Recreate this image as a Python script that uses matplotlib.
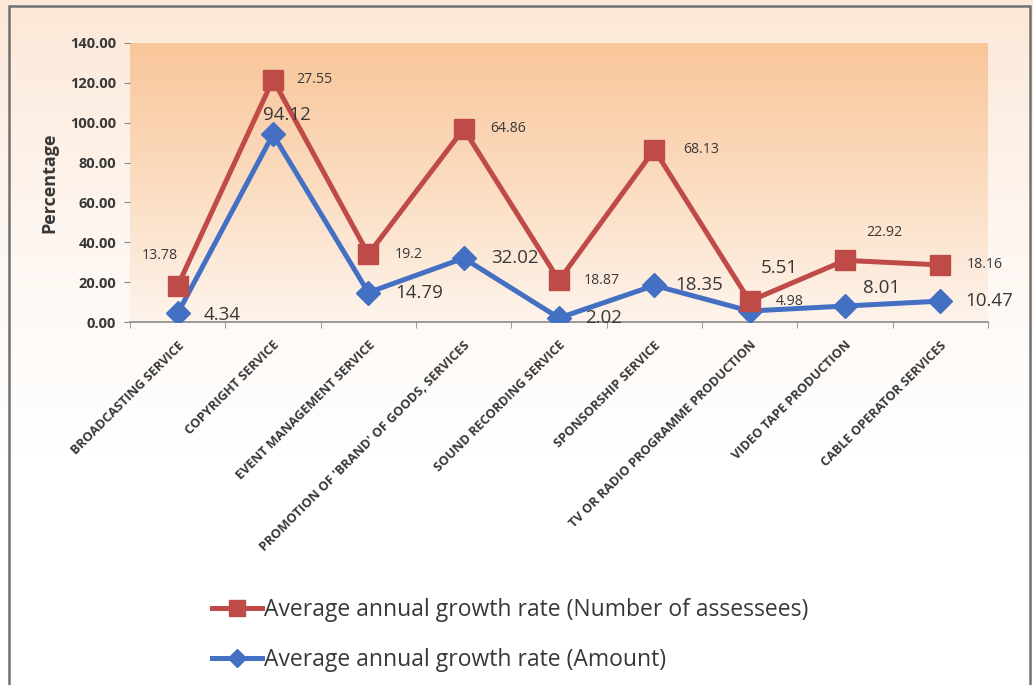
import numpy as np
import matplotlib.pyplot as plt
from matplotlib.patches import Rectangle
from matplotlib.colors import LinearSegmentedColormap

plt.rcParams['font.family'] = ['Open Sans', 'DejaVu Sans']

# --------------------------------------------------
# data
# --------------------------------------------------
categories = [
    'BROADCASTING SERVICE',
    'COPYRIGHT SERVICE',
    'EVENT MANAGEMENT SERVICE',
    "PROMOTION OF 'BRAND' OF GOODS, SERVICES",
    'SOUND RECORDING SERVICE',
    'SPONSORSHIP SERVICE',
    'TV OR RADIO PROGRAMME PRODUCTION',
    'VIDEO TAPE PRODUCTION',
    'CABLE OPERATOR SERVICES',
]
assessees = [13.78, 27.55, 19.2, 64.86, 18.87, 68.13, 4.98, 22.92, 18.16]
amount = [4.34, 94.12, 14.79, 32.02, 2.02, 18.35, 5.51, 8.01, 10.47]

yticks = [0, 20, 40, 60, 80, 100, 120, 140]

# label offsets (points) for the data labels
red_off = [(-13, 22), (30, 0), (29, 0), (32, 0), (31, 0), (34, 0), (29, 0), (28, 20), (32, 0)]
blue_off = [(32, -1), (10, 14), (37, 0), (37, 0), (32, 0), (32, 0), (21, 31), (26, 13), (35, 0)]

RED = '#BE4B48'
BLUE = '#4470C4'
TXT = '#383838'

W, H = 1033, 685
fig = plt.figure(figsize=(W / 100, H / 100), dpi=100)

# --------------------------------------------------
# outer background + border
# --------------------------------------------------
bg = fig.add_axes([0, 0, 1, 1], zorder=-10)
bg_cmap = LinearSegmentedColormap.from_list('bg', ['#FCE8D8', '#FEF6F0', '#FFFFFF', '#FFFFFF'])
bg.imshow(np.linspace(0, 1, 256).reshape(-1, 1), aspect='auto', cmap=bg_cmap,
          extent=[0, 1, 0, 1], origin='upper')
bg.add_patch(Rectangle((9 / W, -0.01), 1021 / W, 1 - 6 / H + 0.01,
                       fill=False, edgecolor='#707070', linewidth=1.8))
bg.set_xlim(0, 1)
bg.set_ylim(0, 1)
bg.axis('off')

# --------------------------------------------------
# plot area
# --------------------------------------------------
ax = fig.add_axes([130 / W, 1 - 322 / H, 858 / W, 279 / H])
ax.patch.set_alpha(0)
pa_cmap = LinearSegmentedColormap.from_list('pa', ['#F9C69A', '#FBDCC0', '#FEF4EC'])
ax.imshow(np.linspace(0, 1, 256).reshape(-1, 1), aspect='auto', cmap=pa_cmap,
          extent=[0, 1, 0, 1], origin='upper', transform=ax.transAxes, zorder=0)

x = np.arange(len(categories))
amount = np.array(amount)
stacked = amount + np.array(assessees)

ax.plot(x, amount, color=BLUE, lw=3.6, marker='D', ms=12, zorder=3,
        label='Average annual growth rate (Amount)')
ax.plot(x, stacked, color=RED, lw=3.6, marker='s', ms=15, zorder=4,
        label='Average annual growth rate (Number of assessees)')

for i in range(len(x)):
    ax.annotate(f'{assessees[i]:g}', (x[i], stacked[i]), xytext=red_off[i],
                textcoords='offset points', ha='center', va='center',
                fontsize=10.2, color=TXT, zorder=5)
    ax.annotate(f'{amount[i]:.2f}', (x[i], amount[i]), xytext=blue_off[i],
                textcoords='offset points', ha='center', va='center',
                fontsize=13.5, color=TXT, zorder=5)

ax.set_xlim(-0.5, len(categories) - 0.5)
ax.set_ylim(0, 140)
ax.set_yticks(yticks)
ax.set_yticklabels([f'{v:.2f}' for v in yticks], fontsize=10.5, fontweight='bold', color=TXT)
ax.tick_params(axis='y', length=4, color='#888888', pad=6)

ax.set_xticks(x)
ax.set_xticklabels(categories, rotation=45, ha='right', rotation_mode='anchor',
                   fontsize=9.2, fontweight='bold', color=TXT)
ax.tick_params(axis='x', which='major', length=0, pad=12)
ax.set_xticks(np.arange(-0.5, len(categories)), minor=True)
ax.tick_params(axis='x', which='minor', length=4, color='#888888')

for s in ['top', 'right', 'left']:
    ax.spines[s].set_visible(False)
ax.spines['bottom'].set_color('#8a8a8a')
ax.spines['bottom'].set_linewidth(1.2)

ax.set_ylabel('Percentage', fontsize=13, fontweight='bold', color=TXT)
ax.yaxis.set_label_coords(-72 / 858, 0.5)

# --------------------------------------------------
# legend
# --------------------------------------------------
h, l = ax.get_legend_handles_labels()
fig.legend(h[::-1], l[::-1], loc='upper left', bbox_to_anchor=(191 / W, 1 - 577 / H),
           frameon=False, fontsize=16.5, handlelength=2.2, handletextpad=0.1,
           labelspacing=1.15, labelcolor=TXT, markerscale=0.8)

fig.savefig('out.png', dpi=100)
